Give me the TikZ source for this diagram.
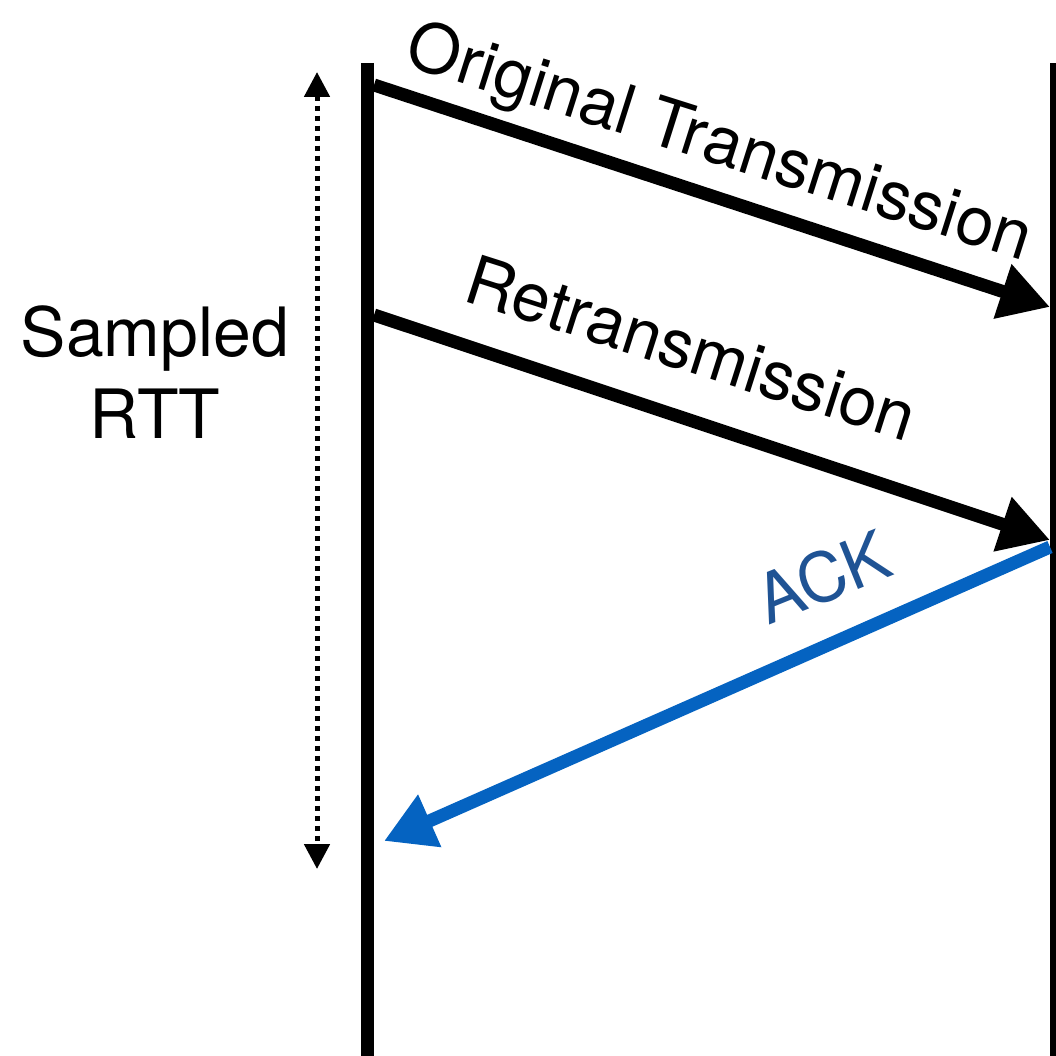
\documentclass[tikz,border=0pt]{standalone}
\usepackage{fontspec}
\setmainfont{TeX Gyre Heros}
\usepackage{xcolor}
\usetikzlibrary{arrows.meta}
\definecolor{ackline}{HTML}{0563C1}
\definecolor{acktext}{HTML}{1F5394}

\begin{document}
\begin{tikzpicture}[
                    x=1pt, y=-1pt,
                    every node/.style={font=\fontsize{68}{82}\selectfont, inner sep=0pt},
                    host/.style={line width=13pt},
                    msg/.style={line width=13pt, -{Triangle[length=50pt,width=54pt]}},
                    rtt/.style={line width=5pt, dash pattern=on 5pt off 5pt,
                                {Triangle[length=25pt,width=25pt]}-{Triangle[length=25pt,width=25pt]}}
            ]
                \useasboundingbox (0,0) rectangle (1056,1056);
                \coordinate (sndtop) at (367.5,63);
                \coordinate (sndbot) at (367.5,1056);
                \coordinate (rcvtop) at (1056.5,63);
                \coordinate (rcvbot) at (1056.5,1056);
                \coordinate (origfrom) at (374,85);
                \coordinate (origto) at (1050,307);
                \coordinate (retxfrom) at (374,315);
                \coordinate (retxto) at (1050,540);
                \coordinate (ackfrom) at (1050,547);
                \coordinate (ackto) at (384,841);
                \coordinate (rtttop) at (317,72);
                \coordinate (rttbot) at (317,869);
                \draw [host] (sndtop) -- (sndbot);
                \draw [host] (rcvtop) -- (rcvbot);
                \draw [msg] (origfrom) -- (origto);
                \draw [msg] (retxfrom) -- (retxto);
                \draw [msg, ackline] (ackfrom) -- (ackto);
                \draw [rtt] (rtttop) -- (rttbot);
                \node [anchor=base, rotate=-17.6] (origlabel) at (713,163) {Original Transmission};
                \node [anchor=base, rotate=-17.7] (retxlabel) at (684,371) {Retransmission};
                \node [anchor=base, rotate=22, text=acktext] (acklabel) at (832,600) {ACK};
                \node [align=center] (rttlabel) at (155,372) {Sampled\\RTT};
            \end{tikzpicture}
\end{document}
